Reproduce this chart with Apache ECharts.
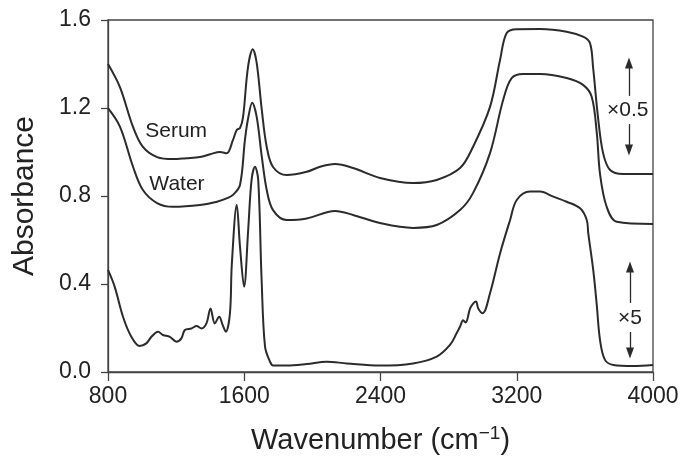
<!DOCTYPE html>
<html>
<head>
<meta charset="utf-8">
<script src="https://cdn.jsdelivr.net/npm/echarts@6/dist/echarts.min.js"></script>
<style>
  html, body { margin: 0; padding: 0; background: #fff; }
  #chart { width: 682px; height: 461px; }
</style>
</head>
<body>
<div id="chart"></div>
<script>
// [wavenumber, absorbance]
const serum = [
  [800, 1.40], [870, 1.295], [947, 1.114], [1005, 1.023], [1088, 0.977], [1182, 0.968],
  [1260, 0.972], [1340, 0.977], [1400, 0.99], [1458, 1.0], [1497, 0.994], [1534, 1.055],
  [1556, 1.10], [1575, 1.109], [1593, 1.159], [1622, 1.386], [1650, 1.467], [1673, 1.405],
  [1703, 1.191], [1732, 1.023], [1769, 0.932], [1849, 0.895], [1967, 0.91], [2045, 0.933],
  [2133, 0.945], [2239, 0.927], [2397, 0.882], [2591, 0.859], [2730, 0.873], [2867, 0.927],
  [2943, 1.023], [3043, 1.205], [3102, 1.418], [3141, 1.541], [3200, 1.558], [3337, 1.559],
  [3493, 1.547], [3589, 1.524], [3630, 1.495], [3648, 1.386], [3677, 1.159], [3707, 0.995],
  [3748, 0.918], [3824, 0.9], [4000, 0.9]
]

const water = [
  [800, 1.199], [870, 1.115], [947, 0.933], [1005, 0.827], [1088, 0.768], [1182, 0.751],
  [1340, 0.759], [1440, 0.774], [1500, 0.79], [1534, 0.805], [1575, 0.85], [1604, 1.055],
  [1622, 1.15], [1647, 1.224], [1673, 1.16], [1703, 0.979], [1732, 0.827], [1769, 0.736],
  [1849, 0.691], [1967, 0.698], [2133, 0.732], [2239, 0.714], [2397, 0.677], [2591, 0.655],
  [2730, 0.668], [2867, 0.736], [2943, 0.813], [3043, 0.995], [3120, 1.236], [3170, 1.336],
  [3237, 1.355], [3337, 1.355], [3493, 1.336], [3589, 1.305], [3640, 1.251], [3670, 1.086],
  [3689, 0.9], [3728, 0.751], [3787, 0.683], [4000, 0.673]
]

// difference spectrum (x5)
const diff = [
  [800, 0.464], [839, 0.388], [888, 0.251], [937, 0.16], [986, 0.118], [1025, 0.13],
  [1055, 0.16], [1094, 0.183], [1123, 0.168], [1163, 0.16], [1202, 0.138], [1231, 0.153],
  [1251, 0.191], [1290, 0.198], [1320, 0.209], [1349, 0.198], [1378, 0.221], [1402, 0.289],
  [1427, 0.221], [1453, 0.251], [1473, 0.214], [1492, 0.183], [1516, 0.267], [1527, 0.49],
  [1556, 0.759], [1575, 0.57], [1599, 0.388], [1623, 0.645], [1643, 0.873], [1663, 0.933],
  [1682, 0.873], [1702, 0.418], [1722, 0.115], [1751, 0.047], [1769, 0.03], [1849, 0.029],
  [1967, 0.036], [2084, 0.047], [2202, 0.039], [2397, 0.029], [2591, 0.039], [2730, 0.07],
  [2808, 0.123], [2847, 0.176], [2867, 0.206], [2885, 0.235], [2900, 0.225], [2926, 0.289],
  [2945, 0.312], [2961, 0.32], [2974, 0.289], [3000, 0.267], [3043, 0.358], [3102, 0.539],
  [3161, 0.691], [3200, 0.782], [3278, 0.82], [3337, 0.82], [3415, 0.797], [3493, 0.774],
  [3572, 0.744], [3611, 0.691], [3620, 0.63], [3649, 0.464], [3669, 0.312], [3689, 0.145],
  [3718, 0.055], [3767, 0.032], [3883, 0.027], [4000, 0.032]
]

// annotations: [wavenumber, absorbance]
const serumLabel = [1200, 1.095]
const waterLabel = [1205, 0.855]
const halfText = [3852, 1.191]
const halfArrowUp = [[3859, 1.255], [3859, 1.405]]
const halfArrowDown = [[3859, 1.127], [3859, 1.009]]
const fiveText = [3865, 0.245]
const fiveArrowUp = [[3865, 0.314], [3865, 0.477]]
const fiveArrowDown = [[3865, 0.182], [3865, 0.086]]

const font = '"Liberation Sans", Arial, sans-serif'
const ink = '#2b2b2b'

const chart = echarts.init(document.getElementById('chart'), null, { renderer: 'canvas' })

const lineSeries = (name, data) => ({
  name,
  type: 'line',
  data,
  showSymbol: false,
  smooth: 0.35,
  lineStyle: { width: 2, color: ink },
  silent: true
})

const arrow = (seg) => [
  { coord: seg[0], symbol: 'none' },
  { coord: seg[1], symbol: 'triangle', symbolSize: [8, 11] }
]

const textPoint = (value, text) => ({
  coord: value,
  symbol: 'circle',
  symbolSize: 1,
  itemStyle: { color: 'rgba(0,0,0,0)' },
  label: { show: true, formatter: text, position: 'inside', color: '#222', fontFamily: font, fontSize: 21 }
})

const diffSeries = lineSeries('Difference', diff)
diffSeries.markLine = {
  silent: true,
  animation: false,
  lineStyle: { color: ink, width: 1.3, type: 'solid' },
  label: { show: false },
  data: [arrow(halfArrowUp), arrow(halfArrowDown), arrow(fiveArrowUp), arrow(fiveArrowDown)]
}
diffSeries.markPoint = {
  silent: true,
  animation: false,
  data: [
    textPoint(serumLabel, 'Serum'),
    textPoint(waterLabel, 'Water'),
    textPoint(halfText, '×0.5'),
    textPoint(fiveText, '×5')
  ]
}

chart.setOption({
  animation: false,
  grid: {
    left: 108, right: 29, top: 20, bottom: 89,
    show: true, borderColor: '#444', borderWidth: 1.3, backgroundColor: 'transparent'
  },
  xAxis: {
    type: 'value',
    min: 800, max: 4000, interval: 800,
    name: 'Wavenumber (cm{sup|−1})',
    nameLocation: 'middle',
    nameGap: 52,
    nameTextStyle: {
      fontFamily: font, fontSize: 29, color: '#222',
      rich: { sup: { fontFamily: font, fontSize: 19, color: '#222', verticalAlign: 'top', padding: [0, 0, 14, 0] } }
    },
    axisLine: { onZero: false, lineStyle: { color: '#444', width: 1.3 } },
    axisTick: { inside: false, length: 9, lineStyle: { color: '#444', width: 1.3 } },
    axisLabel: { fontFamily: font, fontSize: 23, color: '#222', margin: 13, formatter: v => String(v) },
    splitLine: { show: false }
  },
  yAxis: {
    type: 'value',
    min: 0, max: 1.6, interval: 0.4,
    name: 'Absorbance',
    nameLocation: 'middle',
    nameGap: 68,
    nameTextStyle: { fontFamily: font, fontSize: 30, color: '#222' },
    axisLine: { show: true, onZero: false, lineStyle: { color: '#444', width: 1.3 } },
    axisTick: { show: true, inside: false, length: 7, lineStyle: { color: '#444', width: 1.3 } },
    axisLabel: { fontFamily: font, fontSize: 23, color: '#222', margin: 17, formatter: v => v.toFixed(1) },
    splitLine: { show: false }
  },
  series: [lineSeries('Serum', serum), lineSeries('Water', water), diffSeries]
})
</script>
</body>
</html>
